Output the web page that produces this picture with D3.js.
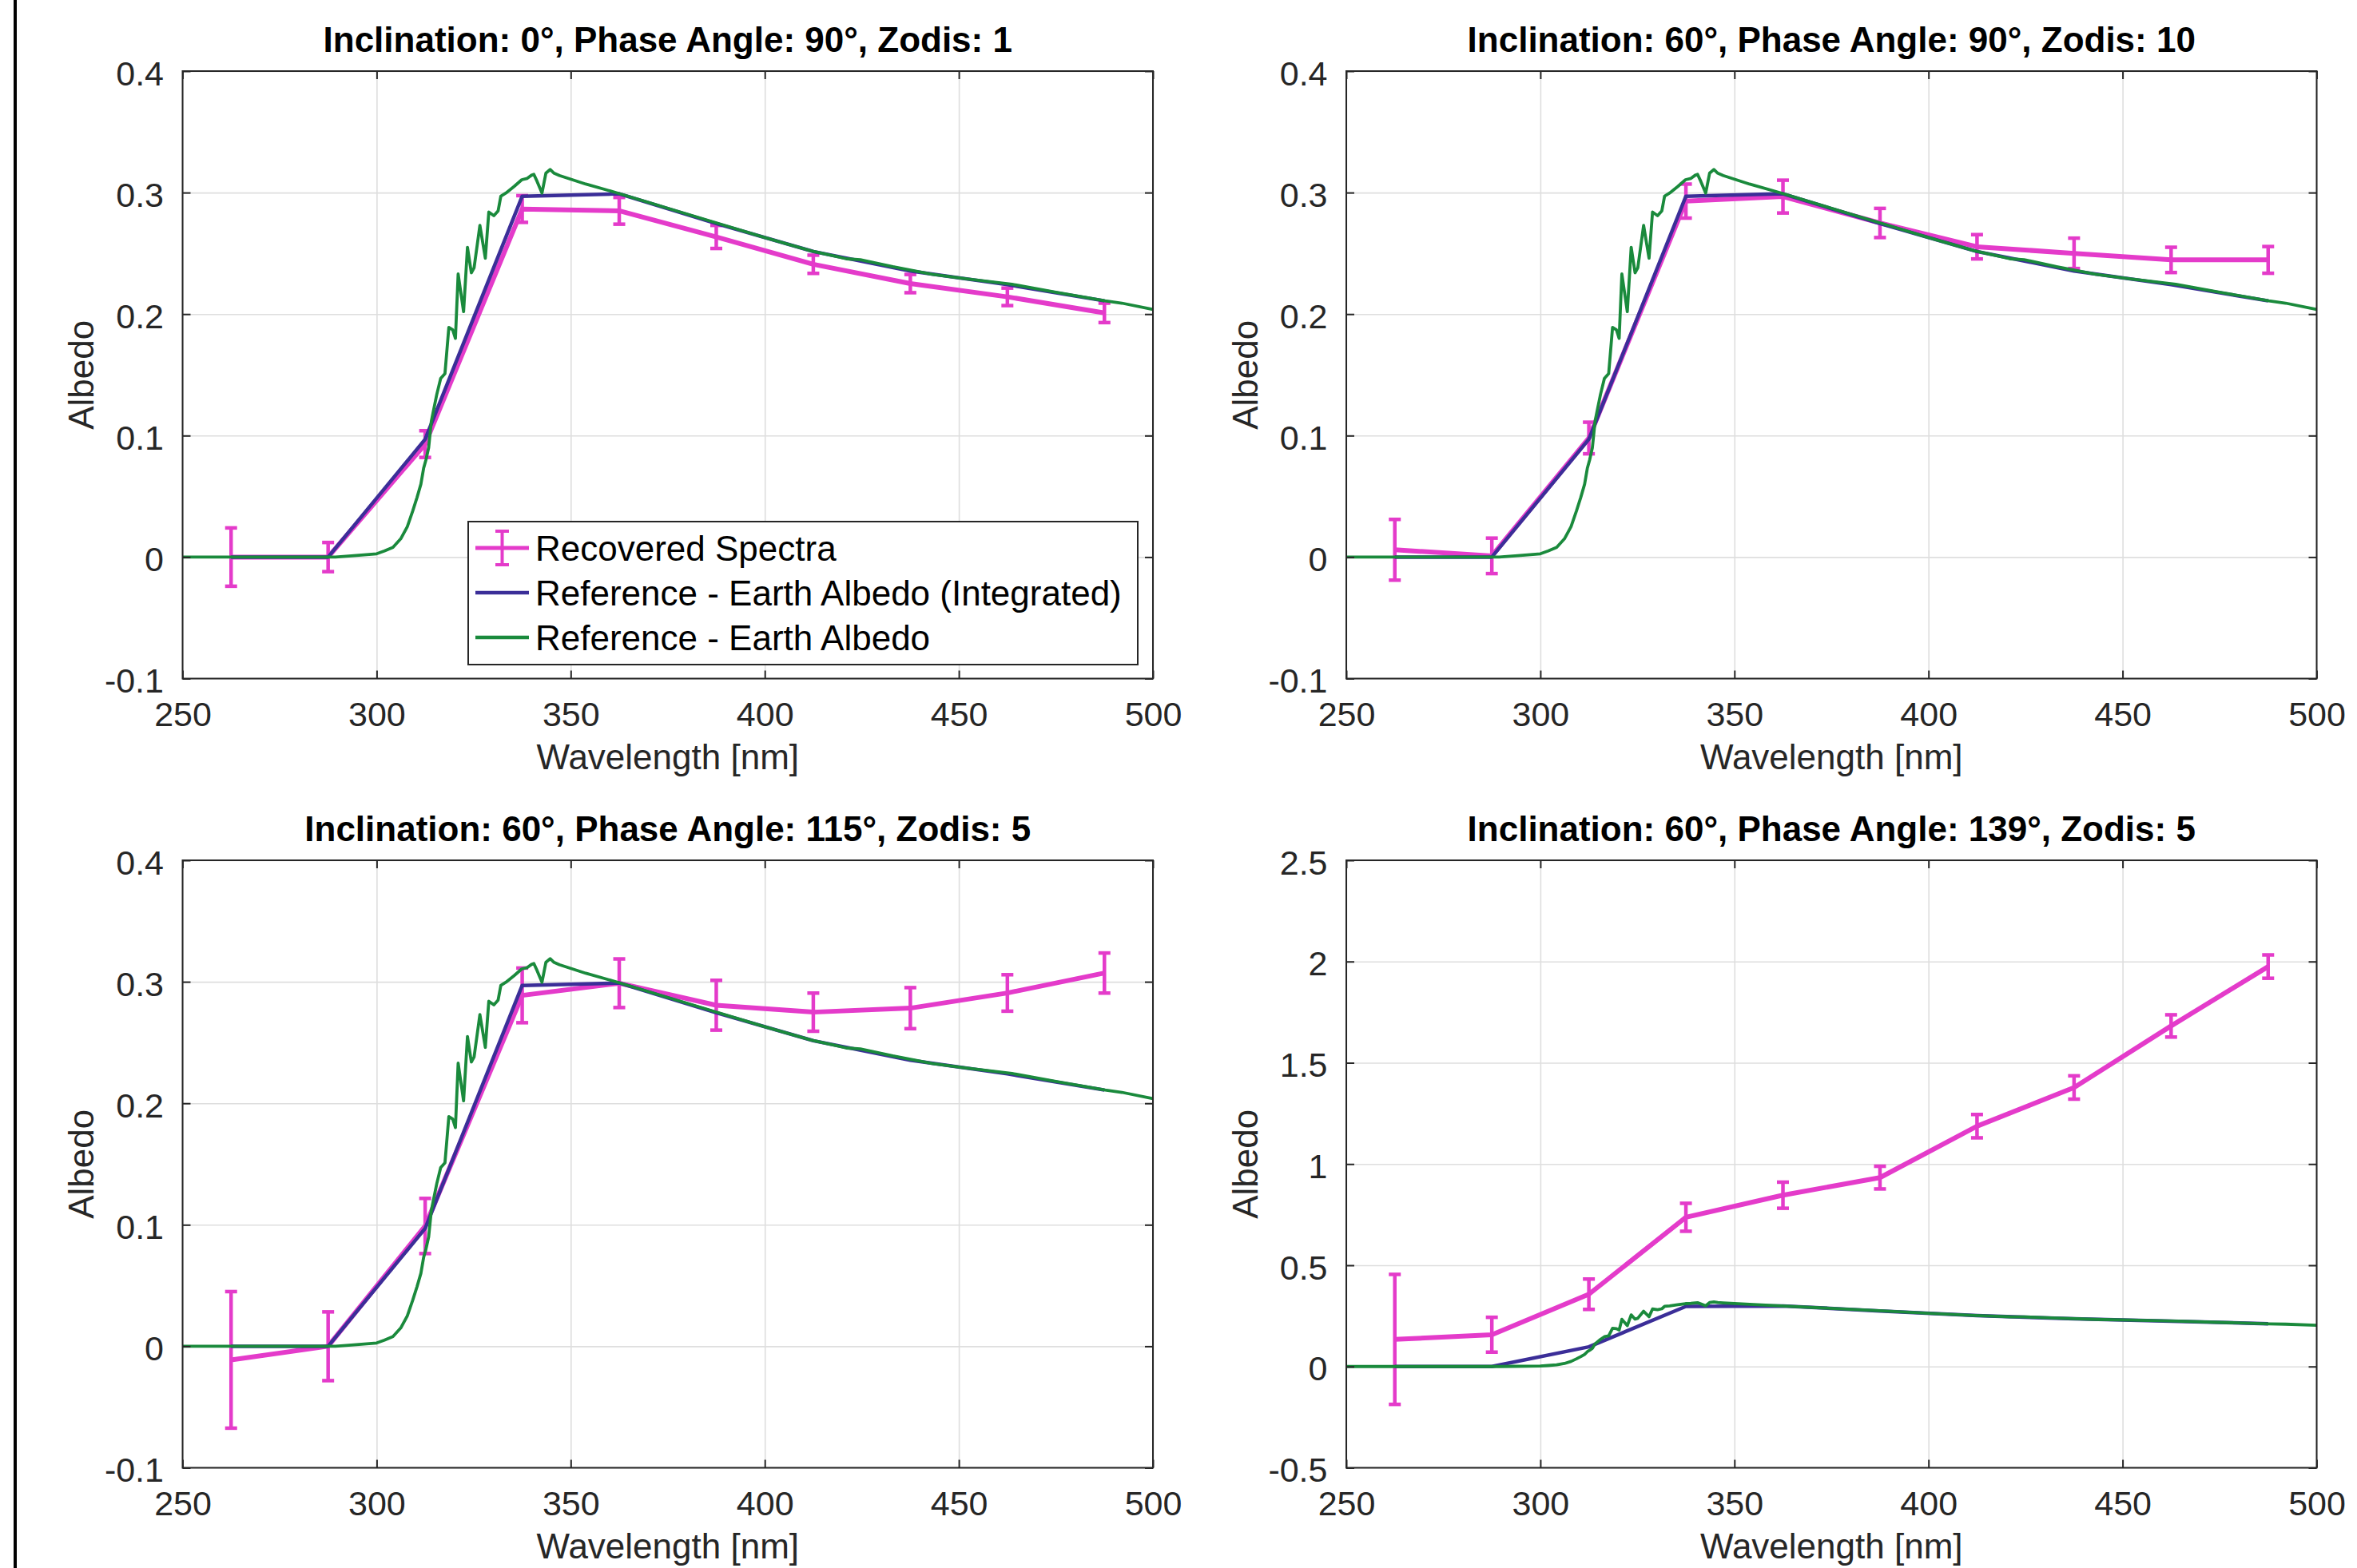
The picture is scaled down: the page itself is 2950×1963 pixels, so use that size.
<!DOCTYPE html>
<html>
<head>
<meta charset="utf-8">
<script src="https://cdn.jsdelivr.net/npm/d3@7"></script>
<style>
  body { margin: 0; background: #fff; }
  svg { display: block; }
  text { font-family: "Liberation Sans", Arial, Helvetica, sans-serif; }
</style>
</head>
<body>
<div id="chart"></div>
<script>
const W = 2950;
const H = 1963;

// recovered spectra: bin centres (nm)
const wavelengths = [262.5, 287.5, 312.5, 337.5, 362.5, 387.5, 412.5, 437.5, 462.5, 487.5];

const recoveredA = [0, 0, 0.093, 0.2865, 0.285, 0.2635, 0.241, 0.2251, 0.2142, 0.201];
const errorA     = [0.024, 0.012, 0.011, 0.011, 0.011, 0.0095, 0.0075, 0.0075, 0.0072, 0.008];
const recoveredB = [0.006, 0.001, 0.098, 0.293, 0.2967, 0.275, 0.2554, 0.25, 0.2446, 0.2446];
const errorB     = [0.025, 0.0146, 0.013, 0.014, 0.0135, 0.012, 0.010, 0.0125, 0.0104, 0.011];
const recoveredC = [-0.0112, 0, 0.099, 0.2888, 0.2988, 0.2807, 0.275, 0.2783, 0.2908, 0.3072];
const errorC     = [0.0562, 0.0283, 0.0227, 0.0225, 0.020, 0.0205, 0.0157, 0.0169, 0.015, 0.0165];
const recoveredD = [0.134, 0.157, 0.357, 0.737, 0.846, 0.933, 1.187, 1.378, 1.682, 1.975];
const errorD     = [0.321, 0.086, 0.075, 0.069, 0.0645, 0.056, 0.0576, 0.0576, 0.055, 0.0576];

// reference, integrated over the same bins
const integratedAlbedo = [0, 0, 0.097, 0.297, 0.299, 0.2745, 0.2515, 0.2355, 0.2242, 0.2109];

// reference, full resolution
const refWavelengths = [250, 270, 285, 289.4, 293.5, 300, 302, 304.2, 306.2, 307.9, 309.3, 310.4,
  311.4, 312.1, 312.7, 313.4, 314.1, 315.5, 316.5, 317.6, 318.6, 319.6, 320.3, 321.0, 322.4,
  323.4, 324.4, 325.1, 326.6, 328.0, 328.9, 330.2, 331.3, 332.0, 333.3, 335.4, 337.4, 338.8,
  339.9, 340.5, 341.3, 342.6, 343.6, 344.7, 345.7, 347.1, 353.9, 362.1, 374.5, 388.2, 400,
  412, 419, 421, 424.6, 433, 443.1, 452, 463.7, 475, 487.7, 492, 500];
const refAlbedo = [0, 0, 0, 0, 0.001, 0.0027, 0.005, 0.008, 0.015, 0.025, 0.038, 0.049,
  0.06, 0.073, 0.08, 0.09, 0.112, 0.134, 0.147, 0.151, 0.189, 0.187, 0.18, 0.233, 0.202,
  0.255, 0.234, 0.238, 0.273, 0.246, 0.284, 0.281, 0.285, 0.297, 0.2996, 0.305, 0.3106, 0.3117,
  0.3143, 0.315, 0.3095, 0.2996, 0.316, 0.319, 0.316, 0.314, 0.307, 0.2996, 0.2876, 0.2744, 0.263,
  0.252, 0.247, 0.2455, 0.2448, 0.239, 0.2328, 0.229, 0.2245, 0.218, 0.2109, 0.209, 0.2039];

const titles = [
  "Inclination: 0°, Phase Angle: 90°, Zodis: 1",
  "Inclination: 60°, Phase Angle: 90°, Zodis: 10",
  "Inclination: 60°, Phase Angle: 115°, Zodis: 5",
  "Inclination: 60°, Phase Angle: 139°, Zodis: 5"
];
const xTicks = [250, 300, 350, 400, 450, 500];
const yTicksSmall = [-0.1, 0, 0.1, 0.2, 0.3, 0.4];
const yTicksLarge = [-0.5, 0, 0.5, 1, 1.5, 2, 2.5];
const legendLabels = ["Recovered Spectra", "Reference - Earth Albedo (Integrated)", "Reference - Earth Albedo"];

const colMag = "#e43bca";
const colBlue = "#3b2e98";
const colGreen = "#1a8a3c";
const axisCol = "#262626";

const pw = 1214.5, ph = 760.5;

const panels = [
  { left: 228.5, top: 89, values: recoveredA, errors: errorA, ticks: yTicksSmall, legend: true },
  { left: 1685, top: 89, values: recoveredB, errors: errorB, ticks: yTicksSmall },
  { left: 228.5, top: 1077, values: recoveredC, errors: errorC, ticks: yTicksSmall },
  { left: 1685, top: 1077, values: recoveredD, errors: errorD, ticks: yTicksLarge }
];

const svg = d3.select("#chart").append("svg")
  .attr("width", W)
  .attr("height", H);

svg.append("rect").attr("width", W).attr("height", H).attr("fill", "#fff");
svg.append("line")
  .attr("x1", 19).attr("x2", 19).attr("y1", 0).attr("y2", H)
  .attr("stroke", "#000").attr("stroke-width", 4);

panels.forEach(function(p, i) {
  var g = svg.append("g").attr("transform", "translate(" + p.left + "," + p.top + ")");

  var x = d3.scaleLinear().domain([250, 500]).range([0, pw]);
  var y = d3.scaleLinear().domain(d3.extent(p.ticks)).range([ph, 0]);

  // grid
  g.append("g").attr("class", "grid")
    .attr("transform", "translate(0," + ph + ")")
    .call(d3.axisBottom(x).tickValues(xTicks).tickSize(-ph).tickFormat(""))
    .call(s => s.select(".domain").remove())
    .call(s => s.selectAll("line").attr("stroke", "#dedede").attr("stroke-width", 1.6));
  g.append("g").attr("class", "grid")
    .call(d3.axisLeft(y).tickValues(p.ticks).tickSize(-pw).tickFormat(""))
    .call(s => s.select(".domain").remove())
    .call(s => s.selectAll("line").attr("stroke", "#dedede").attr("stroke-width", 1.6));

  // recovered spectra with error bars
  var line = d3.line().x(d => x(d[0])).y(d => y(d[1]));
  var rec = wavelengths.map((w, k) => [w, p.values[k], p.errors[k]]);
  g.append("path")
    .attr("d", line(rec))
    .attr("fill", "none").attr("stroke", colMag).attr("stroke-width", 6)
    .attr("stroke-linejoin", "round");
  var bars = g.append("g").selectAll("g").data(rec).enter().append("g")
    .attr("stroke", colMag).attr("stroke-width", 4.5);
  bars.append("line")
    .attr("x1", d => x(d[0])).attr("x2", d => x(d[0]))
    .attr("y1", d => y(d[1] - d[2])).attr("y2", d => y(d[1] + d[2]));
  bars.append("line")
    .attr("x1", d => x(d[0]) - 7.5).attr("x2", d => x(d[0]) + 7.5)
    .attr("y1", d => y(d[1] - d[2])).attr("y2", d => y(d[1] - d[2]));
  bars.append("line")
    .attr("x1", d => x(d[0]) - 7.5).attr("x2", d => x(d[0]) + 7.5)
    .attr("y1", d => y(d[1] + d[2])).attr("y2", d => y(d[1] + d[2]));

  // integrated reference
  g.append("path")
    .attr("d", line(wavelengths.map((w, k) => [w, integratedAlbedo[k]])))
    .attr("fill", "none").attr("stroke", colBlue).attr("stroke-width", 4.5)
    .attr("stroke-linejoin", "round");

  // full-resolution reference
  g.append("path")
    .attr("d", line(refWavelengths.map((w, k) => [w, refAlbedo[k]])))
    .attr("fill", "none").attr("stroke", colGreen).attr("stroke-width", 3.8)
    .attr("stroke-linejoin", "round");

  // axes
  var fmt = d => String(d);
  var xa = g.append("g").attr("transform", "translate(0," + ph + ")")
    .call(d3.axisBottom(x).tickValues(xTicks).tickSize(-10).tickSizeOuter(0).tickPadding(29).tickFormat(fmt));
  var ya = g.append("g")
    .call(d3.axisLeft(y).tickValues(p.ticks).tickSize(-10).tickSizeOuter(0).tickPadding(23.5).tickFormat(fmt));
  g.append("g")
    .call(d3.axisTop(x).tickValues(xTicks).tickSize(-10).tickSizeOuter(0).tickFormat(""));
  g.append("g").attr("transform", "translate(" + pw + ",0)")
    .call(d3.axisRight(y).tickValues(p.ticks).tickSize(-10).tickSizeOuter(0).tickFormat(""));
  g.selectAll(".domain").remove();
  g.selectAll(".tick line").filter(function() { return !this.parentNode.parentNode.classList.contains("grid"); })
    .attr("stroke", axisCol).attr("stroke-width", 2);
  [xa, ya].forEach(a => a.selectAll("text")
    .attr("fill", axisCol).attr("font-size", 43)
    .attr("font-family", "Liberation Sans, Arial, sans-serif"));
  ya.selectAll("text").attr("dy", "0.4em");

  g.append("rect")
    .attr("width", pw).attr("height", ph)
    .attr("fill", "none").attr("stroke", axisCol).attr("stroke-width", 2);

  // labels
  g.append("text")
    .attr("x", pw / 2).attr("y", -24)
    .attr("text-anchor", "middle").attr("font-size", 44).attr("font-weight", "bold")
    .attr("fill", "#000")
    .text(titles[i]);
  g.append("text")
    .attr("x", pw / 2).attr("y", ph + 113)
    .attr("text-anchor", "middle").attr("font-size", 44).attr("fill", axisCol)
    .text("Wavelength [nm]");
  g.append("text")
    .attr("transform", "translate(-111.5," + (ph / 2) + ") rotate(-90)")
    .attr("text-anchor", "middle").attr("font-size", 44).attr("fill", axisCol)
    .text("Albedo");

  if (p.legend) {
    var lg = svg.append("g").attr("transform", "translate(586,653)");
    lg.append("rect").attr("width", 838).attr("height", 179)
      .attr("fill", "#fff").attr("stroke", axisCol).attr("stroke-width", 2);
    var rows = [33, 89, 145];
    var cols = [colMag, colBlue, colGreen];
    legendLabels.forEach(function(lab, k) {
      lg.append("line")
        .attr("x1", 9).attr("x2", 76).attr("y1", rows[k]).attr("y2", rows[k])
        .attr("stroke", cols[k]).attr("stroke-width", k === 0 ? 5 : 4.5);
      lg.append("text")
        .attr("x", 84).attr("y", rows[k] + 16)
        .attr("font-size", 44).attr("fill", "#000")
        .text(lab);
    });
    var eb = lg.append("g").attr("stroke", colMag).attr("stroke-width", 4);
    eb.append("line").attr("x1", 42.5).attr("x2", 42.5).attr("y1", 12).attr("y2", 54);
    eb.append("line").attr("x1", 34).attr("x2", 51).attr("y1", 12).attr("y2", 12);
    eb.append("line").attr("x1", 34).attr("x2", 51).attr("y1", 54).attr("y2", 54);
  }
});
</script>
</body>
</html>
